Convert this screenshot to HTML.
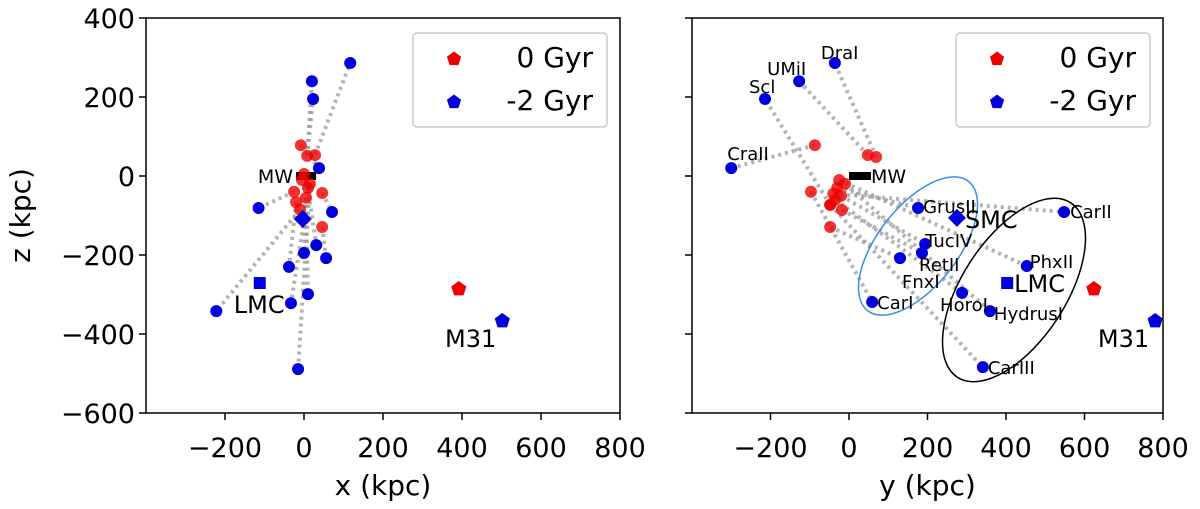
<!DOCTYPE html>
<html><head><meta charset="utf-8"><style>
html,body{margin:0;padding:0;background:#fff;}
svg{display:block;font-family:"DejaVu Sans","Liberation Sans",sans-serif;}
</style></head><body>
<svg id="chart" width="1200" height="509"></svg>
<script>
// Left panel (x vs z) data
const leftRedX = [-8, 8, 28, -5, 10, -20, 46, -25, 5, 46, 0, 15, -10];
const leftRedZ = [78, 51, 53, -10, -30, -66, -43, -40, -55, -129, 5, -20, -85];
const leftBlueX = [117, 20, 23, 38, -115, 71, 0, 31, 56, -38, -33, 10, -222, -15];
const leftBlueZ = [286, 240, 195, 20, -81, -91, -195, -175, -208, -230, -322, -299, -342, -489];
const leftLinkFrom = [2, 1, 1, 0, 7, 6, 8, 4, 9, 5, 11, 8, 12, 11];
// Right panel (y vs z) data
const rightNames = ["DraI","UMiI","Scl","CraII","GrusII","TucIV","RetII","FnxI","CarI","HoroI","HydrusI","PhxII","CarII","CarIII"];
const rightBlueY = [-36, -127, -214, -300, 176, 194, 186, 130, 59, 288, 359, 453, 548, 341];
const rightBlueZ = [286, 240, 195, 20, -81, -172, -195, -208, -319, -296, -342, -228, -91, -484];
const rightRedY = [69, 48, -48, -87, -30, -20, -18, -48, -97, -35, -10, -25, -40, -48];
const rightRedZ = [48, 53, -73, 78, -30, -50, -86, -129, -40, -60, -20, -10, -45, -73];
const xTicks = [-200, 0, 200, 400, 600, 800];
const zTicks = [400, 200, 0, -200, -400, -600];
const m31Red = [392, -286], m31Blue = [502, -367];
const m31RedR = [624, -286], m31BlueR = [780, -367];

const NS = "http://www.w3.org/2000/svg";
const svg = document.getElementById("chart");
function mk(tag, attrs, parent) {
  const e = document.createElementNS(NS, tag);
  for (const k in attrs) e.setAttribute(k, attrs[k]);
  (parent || svg).appendChild(e);
  return e;
}
const Y0 = 18, Y1 = 413;
function zy(z) { return Y0 + (400 - z) / 1000 * (Y1 - Y0); }
function makeX(left, right) { return v => left + (v + 400) / 1200 * (right - left); }
const panels = [
  {L: 146, R: 620, label: "x (kpc)", yt: true},
  {L: 692, R: 1163, label: "y (kpc)", yt: false}
];
function pent(cx, cy, r, fill, name) {
  let p = [];
  for (let i = 0; i < 5; i++) { const a = -Math.PI / 2 + i * 2 * Math.PI / 5; p.push((cx + r * Math.cos(a)).toFixed(1) + "," + (cy + r * Math.sin(a)).toFixed(1)); }
  const e = mk("polygon", {points: p.join(" "), fill: fill});
  
  
  return e;
}
function dot(cx, cy, fill, name, op) {
  const e = mk("circle", {cx: cx, cy: cy, r: 6, fill: fill, "fill-opacity": op || 1});
  
  
}
function txt(x, y, s, size, anchor, name, extra) {
  const e = mk("text", Object.assign({x: x, y: y, "font-size": size, "text-anchor": anchor || "start", fill: "#000"}, extra || {}));
  e.textContent = s;
  
  
  return e;
}
function track(x1, y1, x2, y2) {
  const e = mk("line", {x1: x1, y1: y1, x2: x2, y2: y2, stroke: "#999", "stroke-width": 4, "stroke-dasharray": "3,4", "stroke-opacity": 0.75});
  
  
}
panels.forEach((p, pi) => {
  const X = makeX(p.L, p.R);
  const g = mk("g", {});
  
  
  xTicks.forEach(t => {
    mk("line", {x1: X(t), y1: Y1, x2: X(t), y2: Y1 + 7, stroke: "#000", "stroke-width": 1.5});
    txt(X(t), 457, (t < 0 ? "\u2212" + (-t) : String(t)), 27, "middle", "x-tick-label");
  });
  zTicks.forEach(t => {
    mk("line", {x1: p.L - 7, y1: zy(t), x2: p.L, y2: zy(t), stroke: "#000", "stroke-width": 1.5});
    if (p.yt) txt(p.L - 11, zy(t) + 10, (t < 0 ? "\u2212" + (-t) : String(t)), 27, "end", "y-tick-label");
  });
  txt((p.L + p.R) / 2, 495, p.label, 28, "middle", "x-axis-title");
  if (p.yt) txt(30, (Y0 + Y1) / 2, "z (kpc)", 28, "middle", "y-axis-title", {transform: "rotate(-90 30 " + (Y0 + Y1) / 2 + ")"});

  if (pi === 0) {
    leftBlueX.forEach((v, i) => { const j = leftLinkFrom[i]; track(X(leftRedX[j]), zy(leftRedZ[j]), X(v), zy(leftBlueZ[i])); });
    mk("rect", {x: X(-20), y: zy(0) - 4, width: 20, height: 8, fill: "#000"});
    txt(X(-20) - 3, zy(0) + 7, "MW", 19, "end", "mw-label");
    leftRedX.forEach((v, i) => dot(X(v), zy(leftRedZ[i]), "#e00", "satellite-0gyr", 0.8));
    leftBlueX.forEach((v, i) => dot(X(v), zy(leftBlueZ[i]), "#00d", "satellite-minus2gyr"));
    mk("polygon", {points: [[X(-3), zy(-109) - 9], [X(-3) + 9, zy(-109)], [X(-3), zy(-109) + 9], [X(-3) - 9, zy(-109)]].map(a => a.join(",")).join(" "), fill: "#00d"});
    mk("rect", {x: X(-112) - 6, y: zy(-271) - 6, width: 12, height: 12, fill: "#00d"});
    txt(X(-112) - 26, zy(-271) + 30, "LMC", 24, "start", "lmc-label");
    pent(X(m31Red[0]), zy(m31Red[1]), 8, "#e00", "m31-0gyr");
    pent(X(m31Blue[0]), zy(m31Blue[1]), 8, "#00d", "m31-minus2gyr");
    txt(X(m31Blue[0]) - 6, zy(m31Blue[1]) + 26, "M31", 24, "end", "m31-label");
  } else {
    rightBlueY.forEach((v, i) => track(X(rightRedY[i]), zy(rightRedZ[i]), X(v), zy(rightBlueZ[i])));
    let e1 = mk("ellipse", {cx: 918, cy: 246, rx: 40, ry: 82, fill: "none", stroke: "#3a8ee8", "stroke-width": 1.5, transform: "rotate(38 918 246)"});
     
    let e2 = mk("ellipse", {cx: 1014, cy: 290, rx: 52, ry: 104, fill: "none", stroke: "#000", "stroke-width": 1.5, transform: "rotate(33 1014 290)"});
     
    mk("rect", {x: X(0), y: zy(0) - 4, width: 22, height: 8, fill: "#000"});
    txt(X(0) + 22, zy(0) + 7, "MW", 19, "start", "mw-label");
    rightRedY.forEach((v, i) => dot(X(v), zy(rightRedZ[i]), "#e00", "satellite-0gyr", 0.8));
    rightBlueY.forEach((v, i) => dot(X(v), zy(rightBlueZ[i]), "#00d", "satellite-minus2gyr"));
    const off = {DraI:[-14,-10,"start"],UMiI:[-32,-12,"start"],Scl:[-16,-12,"start"],CraII:[-4,-14,"start"],GrusII:[5,-1,"start"],TucIV:[0,-3,"start"],RetII:[-3,12,"start"],FnxI:[2,24,"start"],CarI:[5,1,"start"],HoroI:[-22,12,"start"],HydrusI:[4,3,"start"],PhxII:[3,-4,"start"],CarII:[6,0,"start"],CarIII:[5,1,"start"]};
    rightNames.forEach((n, i) => { const o = off[n]; txt(X(rightBlueY[i]) + o[0], zy(rightBlueZ[i]) + o[1] + 6, n, 18, o[2], "label-" + n.toLowerCase()); });
    const sx = X(275), sy = zy(-106);
    mk("polygon", {points: [[sx, sy - 9], [sx + 9, sy], [sx, sy + 9], [sx - 9, sy]].map(a => a.join(",")).join(" "), fill: "#00d"});
    txt(sx + 8, sy + 10, "SMC", 24, "start", "smc-label");
    const lx = X(403), ly = zy(-271);
    mk("rect", {x: lx - 6, y: ly - 6, width: 12, height: 12, fill: "#00d"});
    txt(lx + 7, ly + 9, "LMC", 24, "start", "lmc-label");
    pent(X(m31RedR[0]), zy(m31RedR[1]), 8, "#e00", "m31-0gyr");
    pent(X(m31BlueR[0]), zy(m31BlueR[1]), 8, "#00d", "m31-minus2gyr");
    txt(X(m31BlueR[0]) - 6, zy(m31BlueR[1]) + 26, "M31", 24, "end", "m31-label");
  }
  mk("rect", {x: p.L, y: Y0, width: p.R - p.L, height: Y1 - Y0, fill: "none", stroke: "#000", "stroke-width": 1.5});
  const lgx = p.R - 207, lgy = 33;
  const lg = mk("rect", {x: lgx, y: lgy, width: 194, height: 94, rx: 4, fill: "#fff", "fill-opacity": 0.8, stroke: "#ccc", "stroke-width": 1.5});
   
  pent(lgx + 41, 59, 7.5, "#e00", "legend-0gyr-marker");
  pent(lgx + 41, 102, 7.5, "#00d", "legend-minus2gyr-marker");
  txt(lgx + 180, 67, "0 Gyr", 28, "end", "legend-0gyr");
  txt(lgx + 180, 110, "-2 Gyr", 28, "end", "legend-minus2gyr");
});
</script>
</body></html>
